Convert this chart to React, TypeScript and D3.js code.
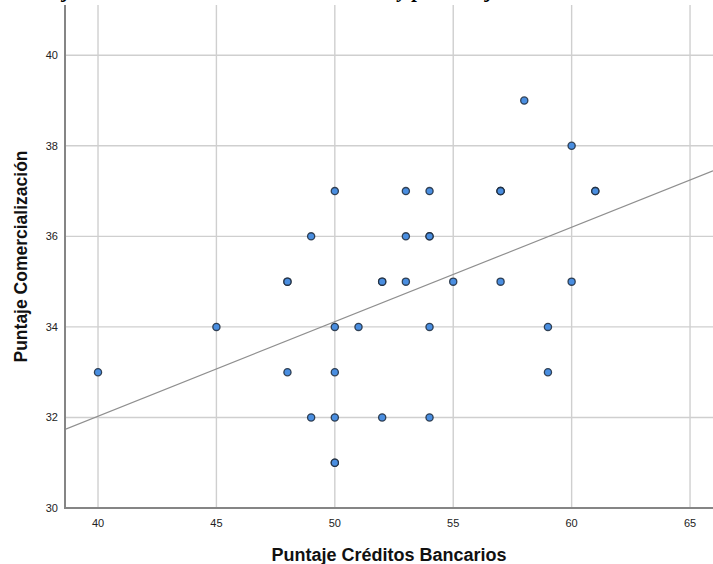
import React from "react";
import * as d3 from "d3";

// Puntaje Créditos Bancarios (x) vs Puntaje Comercialización (y), one entry per respondent
const creditos = [
  40, 45, 48, 48, 48, 49, 49, 50, 50, 50, 50, 50, 50, 51, 52, 52, 52,
  53, 53, 53, 54, 54, 54, 54, 54, 55, 57, 57, 57, 57, 58, 59, 59, 60, 60, 61, 61,
];
const comercializacion = [
  33, 34, 35, 35, 33, 36, 32, 37, 34, 33, 32, 31, 31, 34, 35, 35, 32,
  37, 36, 35, 37, 36, 36, 34, 32, 35, 37, 37, 35, 37, 39, 34, 33, 38, 35, 37, 37,
];

const xTicks = [40, 45, 50, 55, 60, 65];
const yTicks = [30, 32, 34, 36, 38, 40];

// Linear fit line: y = intercept + slope * x
const fitIntercept = 23.68;
const fitSlope = 0.2087;

const titulo =
  "Modelo de ajuste lineal entre los créditos bancarios y porcentaje de comercialización";

const W = 713;
const H = 564;
const left = 65;
const right = 713;
const top = 5;
const bottom = 508;

export default function App() {
  const x = d3.scaleLinear().domain([38.606, 65.97]).range([left, right]);
  const y = d3.scaleLinear().domain([30, 41.11]).range([bottom, top]);

  const points = creditos.map((c, i) => ({ c, v: comercializacion[i] }));
  const [x0, x1] = x.domain();
  const fit = d3.line<number>()
    .x((d) => x(d))
    .y((d) => y(fitIntercept + fitSlope * d))([x0, x1]);

  return (
    <svg
      width={W}
      height={H}
      style={{ position: "absolute", left: 0, top: 0, background: "#fff" }}
      fontFamily="Arial, 'Liberation Sans', sans-serif"
    >
      {/* page title running above the frame (only its descenders fall inside) */}
      <text
        x={-40}
        y={-3.5}
        fontFamily="'Liberation Serif', 'Times New Roman', serif"
        fontStyle="italic"
        fontWeight="bold"
        fontSize={20.5}
        fill="#000"
      >
        {titulo}
      </text>

      <defs>
        <clipPath id="plot">
          <rect x={left} y={top} width={right - left} height={bottom - top} />
        </clipPath>
      </defs>

      {/* grid */}
      <g stroke="#cfcfcf" strokeWidth={1.4}>
        {xTicks.map((t) => (
          <line key={"gx" + t} x1={x(t)} x2={x(t)} y1={top} y2={bottom} />
        ))}
        {yTicks.filter((t) => t !== 30).map((t) => (
          <line key={"gy" + t} x1={left} x2={right} y1={y(t)} y2={y(t)} />
        ))}
      </g>

      {/* fit line */}
      <path d={fit ?? ""} stroke="#8f8f8f" strokeWidth={1.2} fill="none" clipPath="url(#plot)" />

      {/* axes */}
      <g stroke="#858585" strokeWidth={2}>
        <line x1={left} x2={left} y1={top} y2={bottom + 1} />
        <line x1={left} x2={right} y1={bottom} y2={bottom} />
      </g>

      {/* points */}
      <g>
        {points.map((p, i) => (
          <circle
            key={i}
            cx={x(p.c)}
            cy={y(p.v)}
            r={3.6}
            fill="#4a8ee0"
            stroke="#1e2a3a"
            strokeWidth={1.3}
            strokeOpacity={0.85}
          />
        ))}
      </g>

      {/* tick labels */}
      <g fontSize={11} fill="#222">
        {xTicks.map((t) => (
          <text key={"tx" + t} x={x(t)} y={bottom + 19} textAnchor="middle">
            {t}
          </text>
        ))}
        {yTicks.map((t) => (
          <text key={"ty" + t} x={left - 7} y={y(t)} dy="0.35em" textAnchor="end">
            {t}
          </text>
        ))}
      </g>

      {/* axis titles */}
      <text
        x={(left + right) / 2}
        y={561}
        textAnchor="middle"
        fontSize={18}
        fontWeight="bold"
        fill="#111"
      >
        Puntaje Créditos Bancarios
      </text>
      <text
        transform={`translate(27, ${(top + bottom) / 2}) rotate(-90)`}
        textAnchor="middle"
        fontSize={17.5}
        fontWeight="bold"
        fill="#111"
      >
        Puntaje Comercialización
      </text>
    </svg>
  );
}
